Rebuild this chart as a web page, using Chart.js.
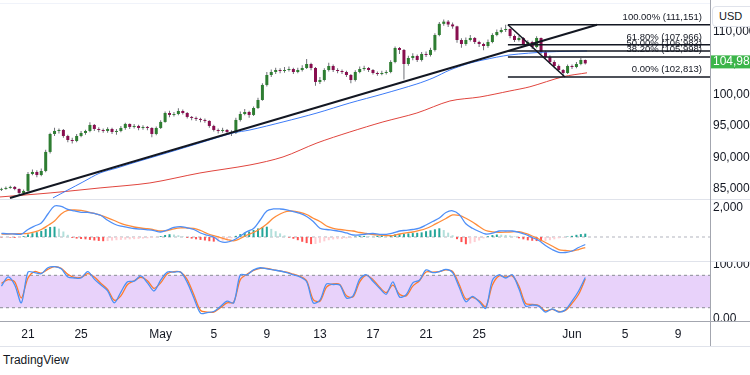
<!DOCTYPE html>
<html>
<head>
<meta charset="utf-8">
<title>BTC/USD 4h</title>
<script src="https://cdn.jsdelivr.net/npm/chart.js@4.4.1/dist/chart.umd.min.js"></script>
<style>
  html, body { margin: 0; padding: 0; background: #fff; }
  #wrap { position: relative; width: 750px; height: 375px; overflow: hidden; font-family: "Liberation Sans", Arial, sans-serif; color: #131722; }
  #wrap canvas { position: absolute; left: 0; }
  .line { position: absolute; background: #e0e3eb; }
  #usd { position: absolute; left: 712px; top: 6px; width: 50px; height: 21px; border: 1px solid #e0e3eb; border-radius: 4px; background: #fff; font-size: 11px; line-height: 19px; padding-left: 6px; box-sizing: border-box; z-index: 2; }
  #brand { position: absolute; left: 3px; top: 353px; font-size: 12px; }
</style>
</head>
<body>
<div id="wrap">
  <canvas id="price" width="750" height="199" style="top:0"></canvas>
  <canvas id="macd" width="750" height="62" style="top:199px"></canvas>
  <canvas id="stoch" width="750" height="85" style="top:261px"></canvas>
  <div class="line" style="left:0;top:3px;width:710px;height:1px;background:#f0f3fa"></div>
  <div class="line" style="left:0;top:199px;width:750px;height:1px"></div>
  <div class="line" style="left:0;top:261px;width:750px;height:1px"></div>
  <div class="line" style="left:0;top:321px;width:750px;height:1px;background:#a3a6af"></div>
  <div class="line" style="left:0;top:346px;width:750px;height:1px"></div>
  <div class="line" style="left:710px;top:0;width:1px;height:346px;background:#a3a6af"></div>
  <div id="usd">USD</div>
  <div id="brand">TradingView</div>
</div>
<script>
// 8h candles, x = days since Apr 21
const candleStart = -2;
const candleStep = 1 / 3;

const opens = [
  84800,84930,85090,85250,84930,84290,84610,87320,87640,87160,
  87800,90840,93710,94190,94350,93390,92750,92590,93390,93870,
  94190,95150,94510,94350,94190,94510,94030,94190,94670,95310,
  94830,94990,94670,94830,94670,93710,94670,95630,97060,96750,
  96900,97380,97060,96430,96270,96110,95950,95790,94990,94350,
  94190,94350,94030,93870,95950,96900,97220,96750,97860,99140,
  101540,103130,103610,103930,103770,103930,104090,103610,103930,104250,
  104890,104250,102020,102330,103930,104570,103930,103770,103610,103130,
  102330,103610,104090,104250,103930,103450,103290,103450,103610,105210,
  107440,107130,104890,105850,106170,105530,106490,106330,107130,109520,
  111300,111650,111200,110900,108720,108080,108720,109040,108400,108080,
  107760,108400,109520,110000,110320,110480,109360,108720,109040,108080,
  108400,107600,109040,106810,106010,105210,104570,103930,103450,104570,
  104410,104890,105530
];
const highs = [
  85120,85300,85420,85380,85010,84820,87650,88050,87900,88200,
  91200,93900,94700,94600,94500,93600,93100,93700,94200,94400,
  95600,95300,94800,94600,94800,94700,94500,95000,95500,95400,
  95300,95200,95100,95000,94800,94900,95900,97300,97400,97200,
  97800,97600,97200,96600,96500,96300,96200,95900,95200,94600,
  94700,94500,94300,96300,97300,97700,97400,98100,99500,101800,
  103600,104000,104300,104200,104400,104500,104300,104300,104700,105700,
  105100,104400,102800,104200,105100,104800,104200,104000,103800,103300,
  103900,104500,104600,104400,104100,103700,103800,103900,105500,107700,
  107600,107300,106200,106600,106400,106800,106900,107500,109800,111600,
  111980,111900,111500,111000,109000,109100,109500,109200,108600,108300,
  108800,109800,110400,110700,111151,110600,109600,109400,109200,108700,
  108600,109300,109100,107000,106300,105500,104800,104100,104800,104800,
  105200,105850,105600
];
const lows = [
  84600,84780,84950,84700,83950,84120,84500,87100,86800,86950,
  87600,90600,93400,93800,93100,92400,92200,92400,93200,93600,
  94000,94200,94000,93900,93900,93700,93600,94000,94400,94500,
  94600,94300,94400,94300,93200,93500,94500,95500,96400,96500,
  96700,96800,96200,95900,95800,95600,95500,94700,94100,93800,
  93900,93700,93400,93700,95700,96700,96300,96600,97700,99000,
  101300,102800,103300,103400,103500,103700,103300,103400,103700,104100,
  103900,101400,101700,102100,103700,103600,103400,103300,102800,101800,
  102100,103400,103800,103600,103200,103000,103100,103200,103400,105000,
  106500,102400,104600,105500,105200,105300,106000,106100,106900,109300,
  111000,110800,110500,108300,107500,107800,108500,108100,107600,107100,
  107500,108200,109300,109800,110000,109000,108400,108500,107800,107900,
  107300,107400,106500,105700,104900,104200,103600,102813,103300,104100,
  104200,104700,104800
];
const closes = [
  84930,85090,85250,84930,84290,84610,87320,87640,87160,87800,
  90840,93710,94190,94350,93390,92750,92590,93390,93870,94190,
  95150,94510,94350,94190,94510,94030,94190,94670,95310,94830,
  94990,94670,94830,94670,93710,94670,95630,97060,96750,96900,
  97380,97060,96430,96270,96110,95950,95790,94990,94350,94190,
  94350,94030,93870,95950,96900,97220,96750,97860,99140,101540,
  103130,103610,103930,103770,103930,104090,103610,103930,104250,104890,
  104250,102020,102330,103930,104570,103930,103770,103610,103130,102330,
  103610,104090,104250,103930,103450,103290,103450,103610,105210,107440,
  107130,104890,105850,106170,105530,106490,106330,107130,109520,111300,
  111650,111200,110900,108720,108080,108720,109040,108400,108080,107760,
  108400,109520,110000,110320,110480,109360,108720,109040,108080,108400,
  107600,109040,106810,106010,105210,104570,103930,103450,104570,104410,
  104890,105530,104985
];

// moving averages
const maBlueDays = [1.88,4.14,5.43,6.71,7.91,10.47,12.96,15.45,16.73,19.22,21.78,24.26,26.75,29.31,30.52,31.80,33.08,34.29,36.32,39.11,42.13];
const maBlue = [83490,86040,87480,88280,89080,90680,92280,93870,94350,95630,97060,98660,100100,101700,102650,103930,104890,105530,106330,106810,106970];
const maRedDays = [-2.11,1.66,5.43,9.19,12.96,16.73,19.22,21.78,24.26,26.75,29.31,31.80,34.06,36.32,37.83,40.32,42.13];
const maRed = [83650,84290,85090,85890,87480,88760,90040,92270,94030,95630,97060,98980,99620,100580,101250,102850,103480];

// drawings
const trendDays = [-1.36, 42.88];
const trendPrices = [83490, 111151];
const fibLabels = ['100.00%', '61.80%', '50.00%', '38.20%', '0.00%'];
const fibPrices = [111151, 107966, 106982, 105998, 102813];
const fibStartDay = 36.17;
const fibDiagDays = [36.17, 40.47];
const fibDiagPrices = [111151, 102813];

const priceTicks = [85000, 90000, 95000, 100000, 105000, 110000];

// MACD histogram per candle, lines per 12h
const macdHist = [
  -30,-20,-40,-60,-50,60,180,260,330,420,
  560,690,710,580,380,150,-60,-110,-140,-160,
  -200,-240,-270,-290,-280,-250,-220,-200,-180,-160,
  -150,-130,-110,-90,-70,-30,60,140,190,170,
  120,40,-60,-110,-160,-200,-240,-290,-320,-300,
  -250,-180,-90,80,200,300,380,480,590,680,
  710,560,400,250,110,-40,-120,-220,-330,-420,
  -490,-480,-400,-300,-220,-170,-150,-130,-100,-80,
  30,60,80,70,60,90,110,100,140,180,
  200,220,250,270,290,320,400,460,530,600,
  480,300,120,-150,-350,-500,-450,-350,-240,-100,
  50,130,170,160,140,100,40,-90,-160,-230,
  -260,-280,-300,-270,-220,-160,-90,-40,30,80,
  150,200,230
];
const lineStart = -2;
const lineStep = 0.5;
const macdLine = [
  255,221,207,193,518,759,966,1587,2139,2105,
  1898,1794,1704,1704,1622,1484,1152,897,745,669,
  587,538,497,442,345,483,656,718,635,518,
  276,124,0,-311,-359,-207,69,366,587,1173,
  1794,1932,1932,1863,1746,1622,1415,1070,600,518,
  462,393,276,138,138,207,242,186,186,276,
  414,462,518,614,828,1070,1311,1691,1808,1553,
  911,600,380,207,262,414,414,414,324,173,
  -35,-242,-587,-863,-1056,-1070,-966,-725,-518
];
const signalLine = [
  207,207,221,235,255,345,518,794,1104,1587,
  1829,1863,1829,1739,1622,1484,1325,1139,932,794,
  690,621,573,497,414,449,566,635,621,593,
  449,242,90,-35,-173,-262,-104,138,311,566,
  897,1311,1587,1773,1780,1704,1553,1290,1070,759,
  600,518,462,414,311,242,173,138,104,97,
  207,290,345,449,587,794,1035,1277,1518,1484,
  1290,1035,725,449,359,324,331,359,366,242,
  69,-138,-380,-621,-863,-932,-966,-863,-725
];
const stochK = [
  60,77,62,29,86,85,83,94,96,92,
  77,75,75,87,73,62,51,29,49,68,
  69,79,66,51,71,86,86,86,67,38,
  10,11,13,22,32,29,81,81,90,94,
  92,90,88,85,81,77,68,29,34,64,
  63,62,38,42,73,81,69,56,45,68,
  40,44,66,71,90,85,87,91,85,58,
  31,41,31,19,71,81,75,81,55,23,
  25,23,12,18,12,16,32,51,76
];
const stochD = [
  65,72,68,38,75,87,84,91,96,93,
  82,76,76,83,77,65,54,34,42,63,
  70,76,70,56,66,83,87,86,72,44,
  15,12,12,20,29,30,72,82,89,93,
  93,90,88,86,82,78,70,35,32,58,
  64,63,42,40,68,80,72,58,48,62,
  45,42,60,70,86,86,87,90,87,63,
  36,39,33,22,62,79,77,79,60,28,
  26,24,14,17,13,15,28,45,73
];
const stochBands = [80, 20];

const xTickDays = [0, 4, 10, 14, 18, 22, 26, 30, 34, 41, 45, 49];
const xTickLabels = ['21', '25', 'May', '5', '9', '13', '17', '21', '25', 'Jun', '5', '9'];

const xMin = -2.11, xMax = 51.4;
const font = { family: '"Liberation Sans", Arial, sans-serif', size: 12 };
const upColor = '#2e7d32', downColor = '#880e4f';

const candleDays = closes.map((_, i) => candleStart + i * candleStep);
const lineDays = macdLine.map((_, i) => lineStart + i * lineStep);
const pts = (xs, ys) => ys.map((y, i) => ({ x: xs[i], y }));
const candleColors = closes.map((c, i) => c >= opens[i] ? upColor : downColor);
const histColors = macdHist.map((v, i) => {
  const prev = i ? macdHist[i - 1] : 0;
  if (v >= 0) return v >= prev ? '#26a69a' : '#b2dfdb';
  return v <= prev ? '#ff5252' : '#ffcdd2';
});

// drop the label padding chart.js adds so panes line up exactly
const noPad = s => { s.paddingTop = 0; s.paddingBottom = 0; s.paddingLeft = 0; s.paddingRight = 0; };

function xAxis(show) {
  return {
    type: 'linear', min: xMin, max: xMax, offset: false, display: show,
    grid: { display: false, drawTicks: false, offset: false }, border: { display: false },
    afterBuildTicks: s => { s.ticks = xTickDays.map(v => ({ value: v })); },
    afterFit: s => { noPad(s); if (show) s.height = 25; },
    ticks: { autoSkip: false, maxRotation: 0, padding: 6, color: '#131722', font,
      callback: v => xTickLabels[xTickDays.indexOf(v)] }
  };
}
function yAxis(min, max, ticks, fmt) {
  return {
    type: 'linear', position: 'right', min, max,
    grid: { display: false, drawTicks: false }, border: { display: false },
    afterBuildTicks: s => { s.ticks = ticks.map(v => ({ value: v })); },
    afterFit: s => { noPad(s); s.width = 40; },
    ticks: { autoSkip: false, padding: 3, color: '#131722', font, callback: fmt }
  };
}
const baseOpts = {
  responsive: false, animation: false, devicePixelRatio: 1, events: [],
  layout: { padding: 0 },
  plugins: { legend: { display: false }, tooltip: { enabled: false } }
};
const lineDs = (data, color, width, extra) => Object.assign({
  type: 'line', data, borderColor: color, borderWidth: width, pointRadius: 0, fill: false, tension: 0
}, extra || {});

const overlay = {
  id: 'overlay',
  afterDatasetsDraw(chart) {
    const { ctx, chartArea, scales: { y } } = chart;
    ctx.save();
    ctx.font = '9.5px "Liberation Sans", Arial, sans-serif';
    ctx.fillStyle = '#131722';
    ctx.textAlign = 'right';
    ctx.textBaseline = 'bottom';
    fibPrices.forEach((p, i) => {
      ctx.fillText(`${fibLabels[i]} (${p.toLocaleString('en-US')})`, chartArea.right - 8, y.getPixelForValue(p) - 3);
    });
    const last = closes[closes.length - 1];
    const py = y.getPixelForValue(last);
    ctx.fillStyle = '#3cb54a';
    ctx.fillRect(chartArea.right, py - 8, 40, 13);
    ctx.fillStyle = '#fff';
    ctx.font = '12px "Liberation Sans", Arial, sans-serif';
    ctx.textAlign = 'left';
    ctx.textBaseline = 'middle';
    ctx.fillText(last.toLocaleString('en-US'), chartArea.right + 3, py - 1.5);
    ctx.restore();
  }
};

new Chart(document.getElementById('price'), {
  type: 'bar',
  data: {
    datasets: [
      lineDs(pts(trendDays, trendPrices), '#131722', 2),
      lineDs(pts(fibDiagDays, fibDiagPrices), '#131722', 1.5),
      ...fibPrices.map(p => lineDs([{ x: fibStartDay, y: p }, { x: xMax, y: p }], '#131722', 1.5)),
      lineDs(pts(maBlueDays, maBlue), '#3d7bf7', 1, { tension: 0.3 }),
      lineDs(pts(maRedDays, maRed), '#e0453e', 1, { tension: 0.3 }),
      { type: 'bar', data: pts(candleDays, closes.map((c, i) => [opens[i], c])),
        backgroundColor: candleColors, grouped: false, maxBarThickness: 3, borderWidth: 0 },
      { type: 'bar', data: pts(candleDays, highs.map((h, i) => [lows[i], h])),
        backgroundColor: '#6f7178', grouped: false, maxBarThickness: 1, borderWidth: 0 }
    ]
  },
  options: Object.assign({}, baseOpts, {
    scales: {
      x: xAxis(false),
      y: yAxis(83322, 115110, priceTicks, v => v.toLocaleString('en-US'))
    }
  }),
  plugins: [overlay]
});

new Chart(document.getElementById('macd'), {
  type: 'bar',
  data: {
    datasets: [
      lineDs(pts(lineDays, macdLine), '#4f8ff7', 1.3, { tension: 0.35 }),
      lineDs(pts(lineDays, signalLine), '#ff8c3a', 1.3, { tension: 0.35 }),
      { type: 'bar', data: pts(candleDays, macdHist), backgroundColor: histColors,
        grouped: false, maxBarThickness: 2, borderWidth: 0 },
      lineDs([{ x: xMin, y: 0 }, { x: xMax, y: 0 }], '#b2b5be', 1, { borderDash: [3, 3] })
    ]
  },
  options: Object.assign({}, baseOpts, {
    scales: {
      x: xAxis(false),
      y: yAxis(-1655, 2620, [2000], v => v.toLocaleString('en-US'))
    }
  })
});

new Chart(document.getElementById('stoch'), {
  type: 'line',
  data: {
    datasets: [
      lineDs(pts(lineDays, stochK), '#4a90f5', 1.3, { tension: 0.3 }),
      lineDs(pts(lineDays, stochD), '#ff7a29', 1.3, { tension: 0.3 }),
      lineDs([{ x: xMin, y: stochBands[0] }, { x: xMax, y: stochBands[0] }], '#8a8d95', 1, { borderDash: [3, 3] }),
      lineDs([{ x: xMin, y: stochBands[1] }, { x: xMax, y: stochBands[1] }], '#8a8d95', 1,
        { borderDash: [3, 3], fill: '-1', backgroundColor: '#e8d2fa' })
    ]
  },
  options: Object.assign({}, baseOpts, {
    scales: {
      x: xAxis(true),
      y: yAxis(-4.6, 106.5, [0, 100], v => v.toFixed(2))
    }
  })
});
</script>
</body>
</html>
